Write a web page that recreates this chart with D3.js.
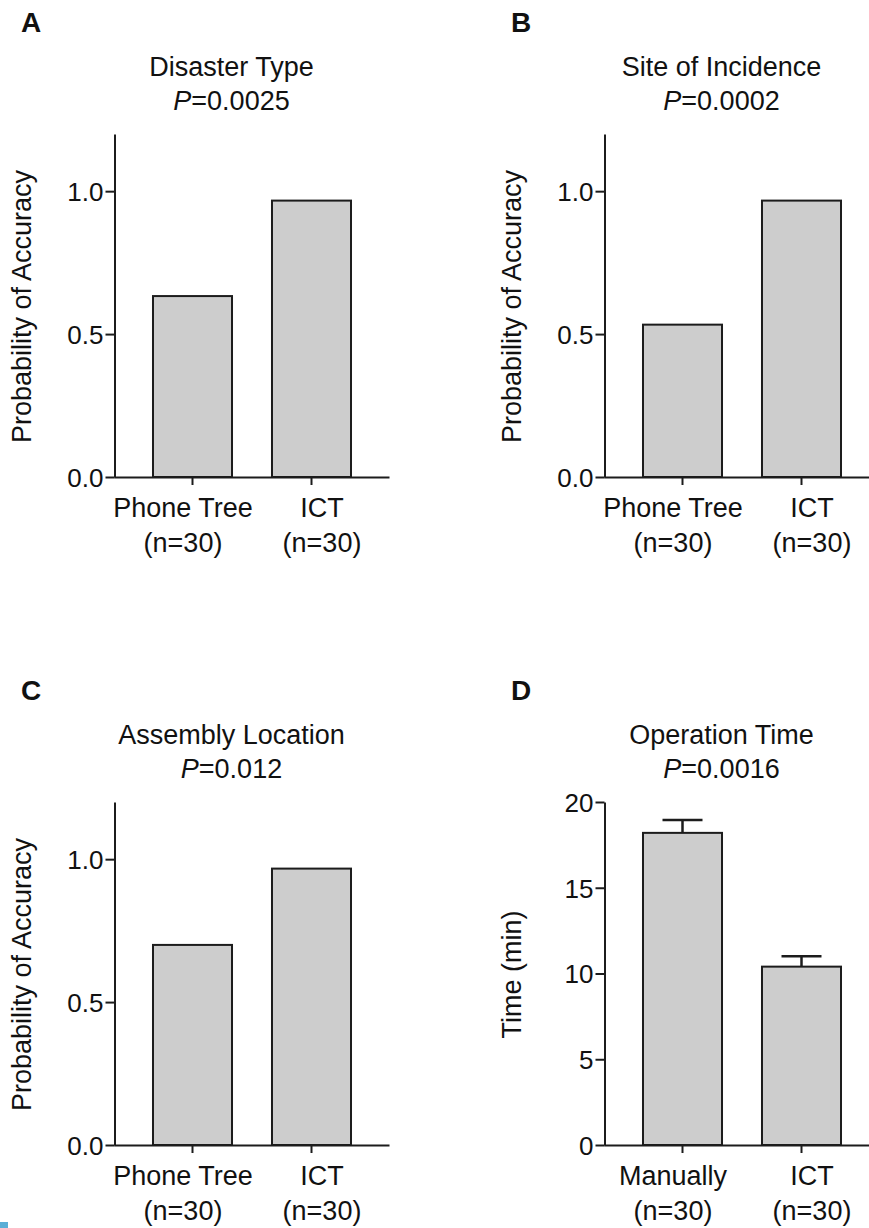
<!DOCTYPE html>
<html><head><meta charset="utf-8">
<script src="https://cdn.jsdelivr.net/npm/d3@7"></script>
<style>
body{margin:0;background:#fff}
text{font-family:"Liberation Sans",Arial,Helvetica,sans-serif;fill:#111}
</style>
</head><body><svg id="chart" width="869" height="1228"></svg>
<script>
// ---- data ----
const panelLabels = ["A", "B", "C", "D"];
const titles = ["Disaster Type", "Site of Incidence", "Assembly Location", "Operation Time"];
const pValues = ["0.0025", "0.0002", "0.012", "0.0016"];
const groupsAccuracy = ["Phone Tree", "ICT"];
const groupsTime = ["Manually", "ICT"];
const nLabels = ["(n=30)", "(n=30)"];
const disasterType = [0.633, 0.967];
const siteOfIncidence = [0.533, 0.967];
const assemblyLocation = [0.700, 0.967];
const operationTime = [18.2, 10.4];
const operationTimeSEM = [0.75, 0.6];
const accuracyTicks = [0, 0.5, 1.0];
const timeTicks = [0, 5, 10, 15, 20];
const yLabelAccuracy = "Probability of Accuracy";
const yLabelTime = "Time (min)";

const panels = [
  {label: panelLabels[0], title: titles[0], p: pValues[0], groups: groupsAccuracy, values: disasterType, err: null, domain: [0, 1.2], ticks: accuracyTicks, fmt: d3.format(".1f"), ylab: yLabelAccuracy, col: 0, row: 0},
  {label: panelLabels[1], title: titles[1], p: pValues[1], groups: groupsAccuracy, values: siteOfIncidence, err: null, domain: [0, 1.2], ticks: accuracyTicks, fmt: d3.format(".1f"), ylab: yLabelAccuracy, col: 1, row: 0},
  {label: panelLabels[2], title: titles[2], p: pValues[2], groups: groupsAccuracy, values: assemblyLocation, err: null, domain: [0, 1.2], ticks: accuracyTicks, fmt: d3.format(".1f"), ylab: yLabelAccuracy, col: 0, row: 1},
  {label: panelLabels[3], title: titles[3], p: pValues[3], groups: groupsTime, values: operationTime, err: operationTimeSEM, domain: [0, 20], ticks: timeTicks, fmt: d3.format("d"), ylab: yLabelTime, col: 1, row: 1}
];

// ---- layout ----
const svg = d3.select("#chart");
const colX = [114.5, 604.5];     // y-axis position
const rowBase = [477, 1145];     // x-axis position
const rowOff = [0, 668];
const plotH = 343, plotW = 275;
const labelShift = [-9.5, 10.5];

panels.forEach(pn => {
  const ax = colX[pn.col], base = rowBase[pn.row], off = rowOff[pn.row], lx = pn.col * 490;
  const g = svg.append("g");

  const x = d3.scaleBand().domain(pn.groups).range([ax, ax + plotW]).paddingInner(0.336).paddingOuter(0.3235);
  const y = d3.scaleLinear().domain(pn.domain).range([base, base - plotH]);

  // panel letter
  g.append("text").attr("x", lx + 21).attr("y", off + 31.5)
    .style("font-weight", "bold").style("font-size", "28px").text(pn.label);

  // title
  g.append("text").attr("x", ax + 117).attr("y", off + 76).attr("text-anchor", "middle")
    .style("font-size", "27px").text(pn.title);
  const pt = g.append("text").attr("x", ax + 117).attr("y", off + 110).attr("text-anchor", "middle")
    .style("font-size", "27px");
  pt.append("tspan").style("font-style", "italic").text("P");
  pt.append("tspan").text("=" + pn.p);

  // bars
  g.selectAll("rect.bar").data(pn.values).join("rect").attr("class", "bar")
    .attr("x", (d, i) => x(pn.groups[i]))
    .attr("width", x.bandwidth())
    .attr("y", d => y(d))
    .attr("height", d => y(0) - y(d))
    .attr("fill", "#cdcdcd").attr("stroke", "#1c1c1c").attr("stroke-width", 2);

  // error bars
  if (pn.err) {
    const eg = g.append("g").attr("stroke", "#1c1c1c").attr("stroke-width", 2.5);
    pn.values.forEach((v, i) => {
      const cx = x(pn.groups[i]) + x.bandwidth() / 2;
      eg.append("line").attr("x1", cx).attr("x2", cx).attr("y1", y(v)).attr("y2", y(v + pn.err[i]));
      eg.append("line").attr("x1", cx - 20).attr("x2", cx + 20).attr("y1", y(v + pn.err[i])).attr("y2", y(v + pn.err[i]));
    });
  }

  // y axis
  const ya = g.append("g").attr("transform", `translate(${ax},0)`)
    .call(d3.axisLeft(y).tickValues(pn.ticks).tickFormat(pn.fmt).tickSize(9).tickSizeOuter(0).tickPadding(2));
  ya.selectAll("path,line").attr("stroke", "#1c1c1c").attr("stroke-width", 2);
  ya.selectAll("text").style("font-size", "26px").attr("fill", "#111").attr("dy", "0.36em");

  // x axis
  const xa = g.append("g").attr("transform", `translate(0,${base})`)
    .call(d3.axisBottom(x).tickSize(8).tickSizeOuter(0).tickFormat(""));
  xa.select("path.domain").attr("d", `M${ax},0.5H${ax + plotW}`);
  xa.selectAll("path,line").attr("stroke", "#1c1c1c").attr("stroke-width", 2);
  xa.selectAll(".tick text").remove();
  xa.selectAll(".tick").each(function(d, i) {
    const t = d3.select(this).append("text").attr("text-anchor", "middle")
      .style("font-size", "27px").attr("fill", "#111");
    t.append("tspan").attr("x", labelShift[i]).attr("y", 40).text(d);
    t.append("tspan").attr("x", labelShift[i]).attr("y", 75).text(nLabels[i]);
  });

  // y label
  g.append("text").attr("transform", `translate(${lx + 31},${(base + base - plotH) / 2 + 1}) rotate(-90)`)
    .attr("text-anchor", "middle").style("font-size", "27px").text(pn.ylab);
});

// small blue mark at bottom-left edge
svg.append("rect").attr("x", 0).attr("y", 1222).attr("width", 8).attr("height", 6).attr("fill", "#5aaed6");
</script>
</body></html>
